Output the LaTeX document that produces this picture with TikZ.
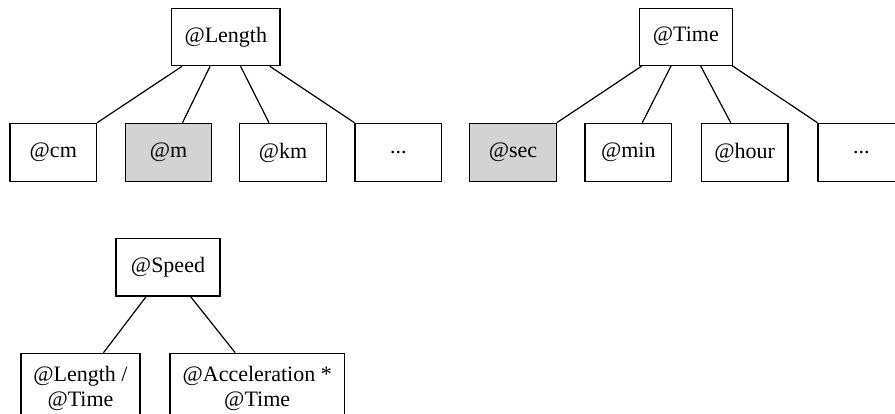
\documentclass[tikz,border=0pt]{standalone}
\usepackage{fontspec}
\setmainfont{Liberation Serif}
\usetikzlibrary{calc}
\definecolor{hlgray}{RGB}{211,211,211}
\tikzset{
  box/.style={draw=black, line width=1.2pt, fill=white, inner sep=0pt,
    font=\fontsize{22}{25}\selectfont, align=center},
  leaf/.style={box, minimum width=86.5pt, minimum height=58.4pt},
  marked/.style={fill=hlgray},
  edge/.style={draw=black, line width=1.2pt},
}
\begin{document}
\begin{tikzpicture}[x=1pt, y=-1pt]
\useasboundingbox (0,0) rectangle (895,413);
\clip (0,0) rectangle (895,413);

% Length hierarchy
\node[box, minimum width=108.3pt, minimum height=57.4pt] (len) at (225.8,37) {@Length};
\node[leaf] (cm) at (53.3,152.5) {@cm};
\node[leaf, marked] (m) at (168.5,152.5) {@m};
\node[leaf] (km) at (283,152.5) {@km};
\node[leaf] (lmore) at (398.3,152.5) {...};
\draw[edge] ($(len.south west)+(11,0)$) -- (cm.north east);
\draw[edge] ($(len.south west)+(39,0)$) -- ($(m.north)+(14,0)$);
\draw[edge] ($(len.south east)+(-40,0)$) -- ($(km.north)+(-14,0)$);
\draw[edge] ($(len.south east)+(-10.7,0)$) -- (lmore.north west);

% Time hierarchy
\node[box, minimum width=93pt, minimum height=57pt] (time) at (685.8,36.7) {@Time};
\node[leaf, marked] (sec) at (513,152.5) {@sec};
\node[leaf] (min) at (628.3,152.5) {@min};
\node[leaf] (hour) at (744.7,152.5) {@hour};
\node[leaf] (tmore) at (861.3,152.5) {...};
\draw[edge] ($(time.south west)+(3.4,0)$) -- (sec.north east);
\draw[edge] ($(time.south west)+(32.4,0)$) -- ($(min.north)+(14,0)$);
\draw[edge] ($(time.south east)+(-32.3,0)$) -- ($(hour.north)+(-14,0)$);
\draw[edge] ($(time.south east)+(-0.6,0)$) -- (tmore.north west);

% Speed derived from the other two
\node[box, minimum width=104pt, minimum height=57.7pt] (speed) at (168,267.2) {@Speed};
\node[box, minimum width=119pt, minimum height=70.4pt] (lpt) at (80.5,388.5) {@Length /\\@Time};
\node[box, minimum width=174.3pt, minimum height=70.4pt] (acc) at (257.2,388.5) {@Acceleration *\\@Time};
\draw[edge] ($(speed.south west)+(30.7,0)$) -- ($(lpt.north)+(23,0)$);
\draw[edge] ($(speed.south east)+(-30,0)$) -- ($(acc.north)+(-22,0)$);
\end{tikzpicture}
\end{document}
